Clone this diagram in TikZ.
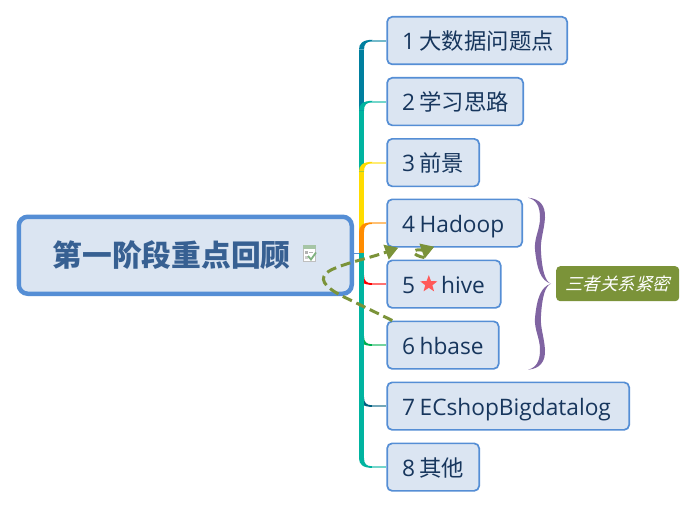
\documentclass[tikz,border=0pt]{standalone}
\usepackage{fontspec}
\usetikzlibrary{calc,arrows.meta,shapes.geometric}
\setmainfont{Open Sans}
\newfontfamily\cjk[Scale=0.985]{Noto Sans CJK SC}
\newfontfamily\slantcjk[FakeSlant=0.25]{Noto Sans CJK SC}
\newcommand{\numgap}{\hspace{4.5pt}}
\definecolor{boxfill}{HTML}{DBE5F2}
\definecolor{boxline}{HTML}{558ED5}
\definecolor{txt}{HTML}{17365D}
\definecolor{roottxt}{HTML}{376092}
\definecolor{olive}{HTML}{7B9339}
\definecolor{bracecol}{HTML}{8064A2}
\definecolor{cOne}{HTML}{007F9F}
\definecolor{cTwo}{HTML}{00B4A0}
\definecolor{cThree}{HTML}{FFDC00}
\definecolor{cFour}{HTML}{FF8C00}
\definecolor{cFive}{HTML}{FF0000}
\definecolor{cSix}{HTML}{00B050}
\definecolor{cSeven}{HTML}{005F80}
\tikzset{
 topic/.style={draw=boxline,fill=boxfill,line width=1.7pt,rounded corners=5pt,minimum height=47.5pt,inner ysep=0pt,inner xsep=15pt,text width=#1,text height=22pt,text depth=3.6pt,align=left,text=txt,font=\fontsize{22.7pt}{26pt}\selectfont,anchor=north west},
 rootbox/.style={draw=boxline,fill=boxfill,line width=4.5pt,rounded corners=9pt,inner ysep=0pt,inner xsep=34pt,text width=265pt,align=left,minimum height=77pt,text=roottxt,font=\fontsize{30.2pt}{34pt}\selectfont,anchor=north west},
 notebox/.style={fill=olive,rounded corners=4pt,minimum width=123pt,minimum height=35pt,inner sep=0pt,text=white,font=\fontsize{17.4pt}{20pt}\selectfont,anchor=north west},
 relation/.style={draw=olive,line width=3pt,dash pattern=on 10pt off 5pt,-{Triangle[length=13pt,width=15pt,fill=olive]}},
}
\newcommand{\branch}[3]{%
 \fill[#2] ($(trunk)+(-2.5,0)$) rectangle ($(trunk|-#1.west)+(2.5,#3*9)$);
 \begin{scope}[shift={(trunk|-#1.west)},yscale=#3]
  \fill[#2] (-2.5,9) .. controls (-2.5,3) and (1,-0.8) .. (11,-0.8) -- (11,0.8) .. controls (5,0.8) and (2.5,3) .. (2.5,9) -- cycle;
 \end{scope}
 \draw[#2!55,line width=2pt] ($(trunk|-#1.west)+(10,0)$) -- (#1.west);
}
\newcommand{\halfbrace}[1]{%
 \begin{scope}[shift={($(note.west)+(-5,0)$)},yscale=#1]
  \fill[bracecol] (-23,-86) .. controls (-11,-85) and (-5.5,-78) .. (-6,-66) .. controls (-7,-52) and (-11,-44) .. (-10,-32) .. controls (-9,-14) and (-6,-2) .. (0,0) .. controls (-10,-3) and (-14,-14) .. (-16,-34) .. controls (-17,-46) and (-11,-54) .. (-11,-66) .. controls (-11,-78) and (-15,-84) .. (-23,-86) -- cycle;
 \end{scope}
}
\begin{document}
\begin{tikzpicture}[x=1pt,y=-1pt]
\useasboundingbox (0,0) rectangle (695,508);
\fill[white] (0,0) rectangle (695,508);
\coordinate (trunk) at (361.5,253);
\node[topic=150pt] (b1) at (386.3,16) {\mbox{1\numgap{\cjk 大数据问题点}}};
\node[topic=106pt] (b2) at (386.3,77) {\mbox{2\numgap{\cjk 学习思路}}};
\node[topic=62pt] (b3) at (386.3,138) {\mbox{3\numgap{\cjk 前景}}};
\node[topic=105pt] (b4) at (386.3,198.5) {\mbox{4\numgap Hadoop}};
\node[topic=83.5pt] (b5) at (386.3,259.5) {\mbox{5\hspace{26pt}hive}};
\node[topic=81.5pt] (b6) at (386.3,320.5) {\mbox{6\numgap hbase}};
\node[topic=212pt] (b7) at (386.3,381.5) {\mbox{7\numgap ECshopBigdatalog}};
\node[topic=62pt] (b8) at (386.3,442.5) {\mbox{8\numgap{\cjk 其他}}};
\node[rootbox] (root) at (16.5,214.5) {\mbox{\cjk\bfseries 第一阶段重点回顾}};
\node[star,star points=5,star point ratio=2.4,fill=red!65!white,inner sep=0pt,minimum size=18pt] (starmark) at ($(b5.west)+(42.5,0)$) {};
% task icon
\fill[white] (303,245.5) rectangle (315,261);
\draw[black!25,line width=0.5pt] (303,245.5) rectangle (315,261);
\fill[green!35!black!35!white] (302.5,245) rectangle (315.5,249);
\fill[black!30] (305,251) rectangle (308,254);
\fill[black!20] (305,256) rectangle (308,259);
\draw[black!30,line width=0.6pt] (309,252) -- (313,252);
\draw[green!40!black!50!white,line width=1.8pt] (308,256) -- (311,259.5) -- (316,252.5);
% connectors
\draw[boxline,line width=1pt] (root.east|-trunk) -- (trunk);
\branch{b1}{cOne}{1}
\branch{b2}{cTwo}{1}
\branch{b3}{cThree}{1}
\branch{b4}{cFour}{1}
\branch{b7}{cSeven}{-1}
\branch{b6}{cSix}{-1}
\branch{b5}{cFive}{-1}
\branch{b8}{cTwo}{-1}
% note and brace
\node[notebox] (note) at (556,266) {{\slantcjk 三者关系紧密}};
\halfbrace{1}
\halfbrace{-1}
% relations
\draw[relation] ($(b6.north west)+(6,0)$) -- (342,296) .. controls (325,287) and (316,278) .. (331,270) .. controls (345,263) and (370,258) .. ($(b4.south west)+(12,0)$);
\draw[relation] ($(b5.north west)+(38,-2)$) .. controls (420,257) and (412,254) .. (414,251) .. controls (416,249) and (425,250) .. ($(b4.south west)+(48,-1)$);
\end{tikzpicture}
\end{document}
